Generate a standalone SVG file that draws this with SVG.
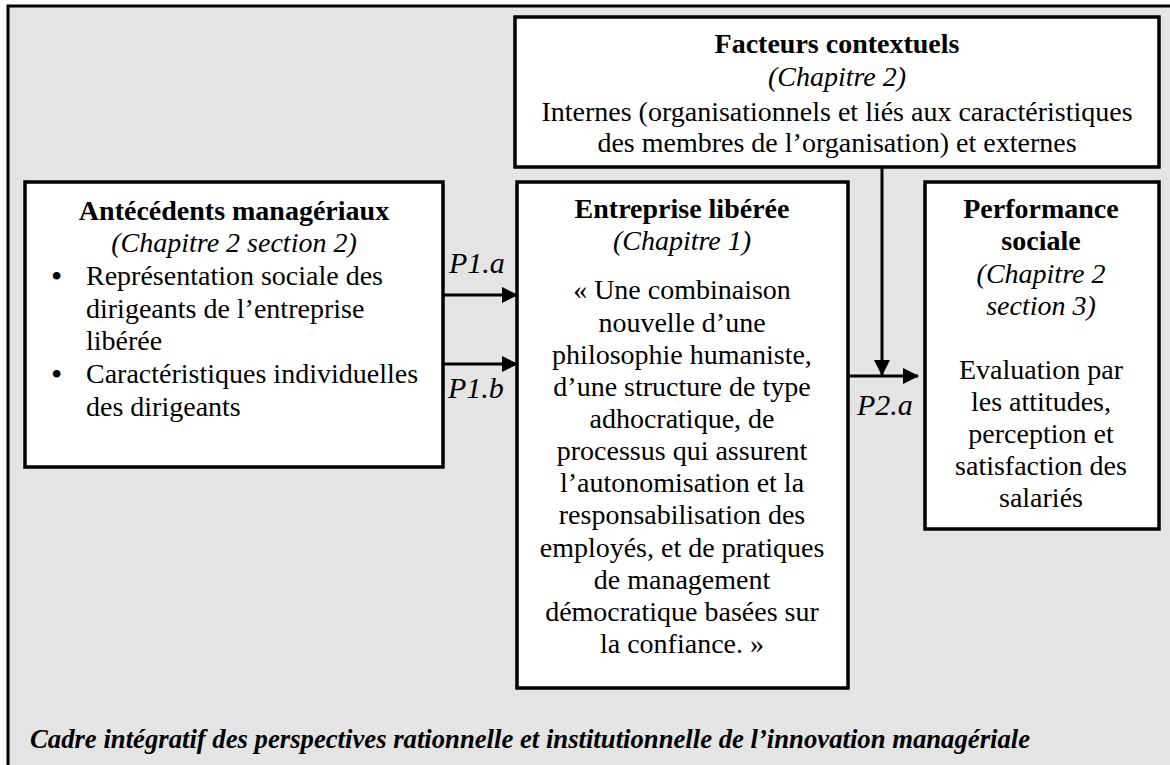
<svg xmlns="http://www.w3.org/2000/svg" width="1170" height="765" viewBox="0 0 1170 765">
<defs>
<style>
.frame{fill:#e4e4e4;stroke:#000;stroke-width:2}
.box{fill:#fff;stroke:#000;stroke-width:3.5}
.t{font-family:"Liberation Serif","Times New Roman",serif;font-size:28px;fill:#000}
.c{text-anchor:middle}
.b{font-weight:bold}
.i{font-style:italic}
.bul{font-family:"Liberation Serif","Times New Roman",serif;font-size:32px;fill:#000}
.lbl{font-family:"Liberation Serif","Times New Roman",serif;font-size:30px;font-style:italic;fill:#000}
.cap{font-family:"Liberation Serif","Times New Roman",serif;font-size:26.7px;font-style:italic;font-weight:bold;fill:#000}
.conn{stroke:#000;stroke-width:3;fill:none}
</style>
<marker id="ah" markerWidth="16" markerHeight="16" refX="15" refY="8" orient="auto" markerUnits="userSpaceOnUse">
<path d="M0,0 L16,8 L0,16 Z" fill="#000"/>
</marker>
</defs>
<rect x="0" y="0" width="1170" height="765" fill="#fff"/>
<rect x="8" y="6" width="1170" height="780" fill="#e4e4e4"/>
<path d="M8,770 L8,6 L1170,6" class="conn" stroke-width="2"/>

<g id="facteurs">
<rect class="box" x="515" y="17" width="644" height="150"/>
<text class="t c b" x="837" y="53">Facteurs contextuels</text>
<text class="t c i" x="837" y="86">(Chapitre 2)</text>
<text class="t c" x="837" y="121">Internes (organisationnels et liés aux caractéristiques</text>
<text class="t c" x="837" y="152">des membres de l’organisation) et externes</text>
</g>

<g id="antecedents">
<rect class="box" x="25" y="182" width="418" height="285"/>
<text class="t c b" x="234" y="220">Antécédents managériaux</text>
<text class="t c i" x="234" y="252">(Chapitre 2 section 2)</text>
<text class="bul" x="51" y="287">•</text>
<text class="t" x="86" y="285">Représentation sociale des</text>
<text class="t" x="86" y="318">dirigeants de l’entreprise</text>
<text class="t" x="86" y="350">libérée</text>
<text class="bul" x="51" y="385">•</text>
<text class="t" x="86" y="383">Caractéristiques individuelles</text>
<text class="t" x="86" y="416">des dirigeants</text>
</g>

<g id="entreprise">
<rect class="box" x="517" y="182" width="331" height="506"/>
<text class="t c b" x="682" y="218">Entreprise libérée</text>
<text class="t c i" x="682" y="250">(Chapitre 1)</text>
<text class="t c" x="682" y="299">« Une combinaison</text>
<text class="t c" x="682" y="332">nouvelle d’une</text>
<text class="t c" x="682" y="364">philosophie humaniste,</text>
<text class="t c" x="682" y="396">d’une structure de type</text>
<text class="t c" x="682" y="428">adhocratique, de</text>
<text class="t c" x="682" y="460">processus qui assurent</text>
<text class="t c" x="682" y="492">l’autonomisation et la</text>
<text class="t c" x="682" y="524">responsabilisation des</text>
<text class="t c" x="682" y="557">employés, et de pratiques</text>
<text class="t c" x="682" y="589">de management</text>
<text class="t c" x="682" y="621">démocratique basées sur</text>
<text class="t c" x="682" y="653">la confiance. »</text>
</g>

<g id="performance">
<rect class="box" x="925" y="182" width="234" height="347"/>
<text class="t c b" x="1041" y="218">Performance</text>
<text class="t c b" x="1041" y="250">sociale</text>
<text class="t c i" x="1041" y="283">(Chapitre 2</text>
<text class="t c i" x="1041" y="315">section 3)</text>
<text class="t c" x="1041" y="379">Evaluation par</text>
<text class="t c" x="1041" y="411">les attitudes,</text>
<text class="t c" x="1041" y="443">perception et</text>
<text class="t c" x="1041" y="475">satisfaction des</text>
<text class="t c" x="1041" y="507">salariés</text>
</g>

<g id="connectors">
<line class="conn" x1="443" y1="295" x2="517" y2="295" marker-end="url(#ah)"/>
<line class="conn" x1="443" y1="364" x2="517" y2="364" marker-end="url(#ah)"/>
<line class="conn" x1="848" y1="376" x2="918" y2="376" marker-end="url(#ah)"/>
<line class="conn" x1="882" y1="167" x2="882" y2="375" marker-end="url(#ah)"/>
<text class="lbl" x="449" y="273">P1.a</text>
<text class="lbl" x="448" y="398">P1.b</text>
<text class="lbl" x="857" y="415">P2.a</text>
</g>

<text class="cap" x="30" y="748">Cadre intégratif des perspectives rationnelle et institutionnelle de l’innovation managériale</text>
</svg>
